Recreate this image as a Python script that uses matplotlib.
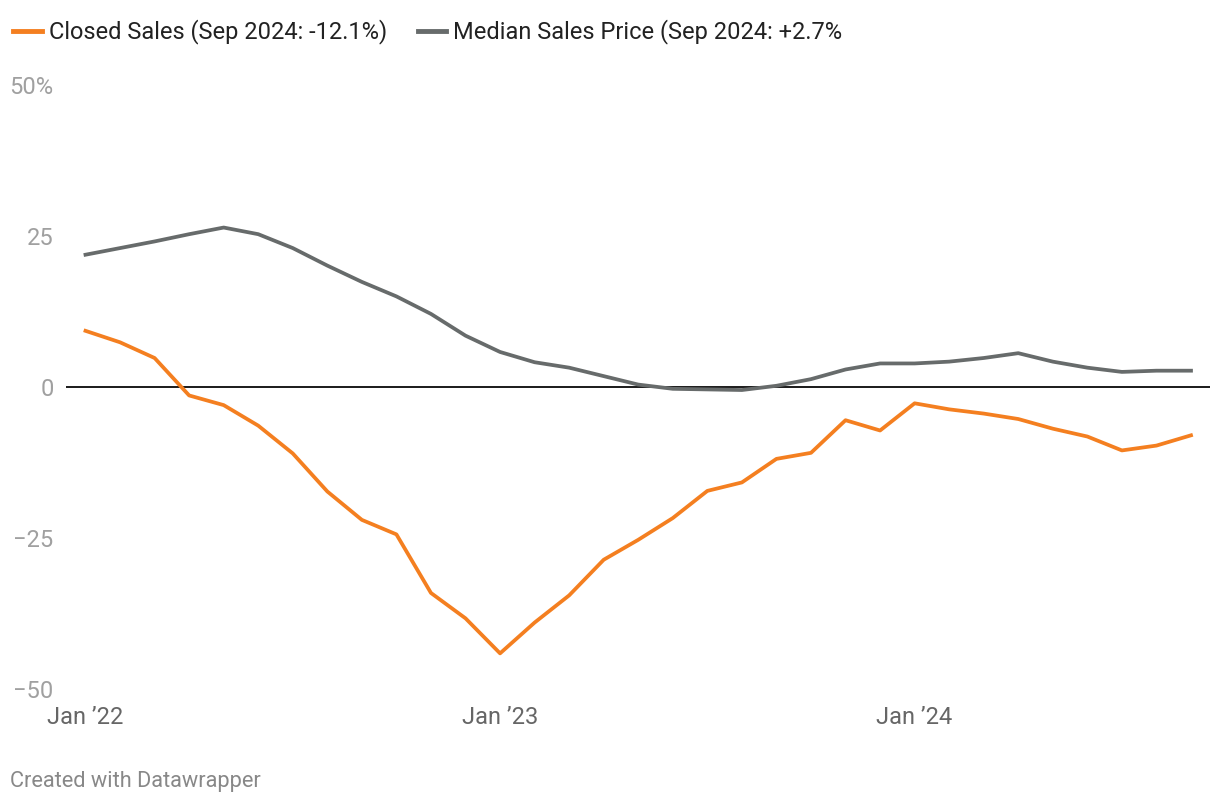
import numpy as np
import matplotlib.pyplot as plt

plt.rcParams['font.family'] = ['Roboto', 'DejaVu Sans']

# monthly, Jan 2022 .. Sep 2024 (year-over-year % change)
months = ['Jan', 'Feb', 'Mar', 'Apr', 'May', 'Jun', 'Jul', 'Aug', 'Sep', 'Oct', 'Nov', 'Dec']
years = [2022, 2023, 2024]

closed_sales = [9.3, 7.4, 4.8, -1.4, -3.0, -6.4, -11.0, -17.3, -22.0, -24.4, -34.1, -38.3,
                -44.1, -39.0, -34.5, -28.6, -25.3, -21.7, -17.2, -15.8, -11.9, -10.9, -5.5, -7.2,
                -2.7, -3.7, -4.4, -5.3, -6.9, -8.2, -10.5, -9.7, -8.0]
median_price = [21.9, 23.0, 24.1, 25.3, 26.4, 25.3, 23.0, 20.1, 17.4, 15.0, 12.1, 8.5,
                5.8, 4.1, 3.2, 1.8, 0.4, -0.3, -0.4, -0.5, 0.2, 1.3, 2.9, 3.9,
                3.9, 4.2, 4.8, 5.6, 4.2, 3.2, 2.5, 2.7, 2.7]

series_labels = ['Closed Sales (Sep 2024: -12.1%)', 'Median Sales Price (Sep 2024: +2.7%']
y_ticks = [50, 25, 0, -25, -50]
y_tick_labels = ['50%', '25', '0', '\u221225', '\u221250']
x_tick_labels = ['Jan \u201922', 'Jan \u201923', 'Jan \u201924']

ORANGE = '#f47f20'
GREY = '#676b6b'

W, H = 1220, 806
fig = plt.figure(figsize=(W / 100, H / 100), dpi=100)
ax = fig.add_axes([66 / W, 117 / H, (1210 - 66) / W, 604 / H])

x = np.arange(len(closed_sales))
ax.plot(x, closed_sales, color=ORANGE, lw=2.7, label=series_labels[0], zorder=3)
ax.plot(x, median_price, color=GREY, lw=2.7, label=series_labels[1], zorder=2)
ax.axhline(0, color='#1a1a1a', lw=1.4, zorder=1)

px_per_month = (1191 - 85.5) / 32
ax.set_xlim(-(85.5 - 66) / px_per_month, 32 + (1210 - 1191) / px_per_month)
ax.set_ylim(-50, 50)

ax.set_yticks(y_ticks)
ax.set_yticklabels(y_tick_labels, color='#a0a0a0', fontsize=17)
ax.set_xticks([i * 12 for i in range(len(years))])
ax.set_xticklabels(x_tick_labels, color='#666666', fontsize=17)
ax.tick_params(axis='y', length=0, pad=9)
ax.tick_params(axis='x', length=0, pad=12)
for s in ax.spines.values():
    s.set_visible(False)

leg = fig.legend(loc='upper left', bbox_to_anchor=(4 / W, 1 - 10 / H), ncol=2, frameon=False,
                 fontsize=17, handlelength=1.2, handletextpad=0.3, columnspacing=1.3,
                 borderaxespad=0)
for t in leg.get_texts():
    t.set_color('#222222')
for h in leg.legend_handles:
    h.set_linewidth(3.5)

fig.text(10 / W, 1 - 782 / H, 'Created with Datawrapper', color='#888888', fontsize=15.7,
         va='center', ha='left')

fig.savefig('out.png', dpi=100)
